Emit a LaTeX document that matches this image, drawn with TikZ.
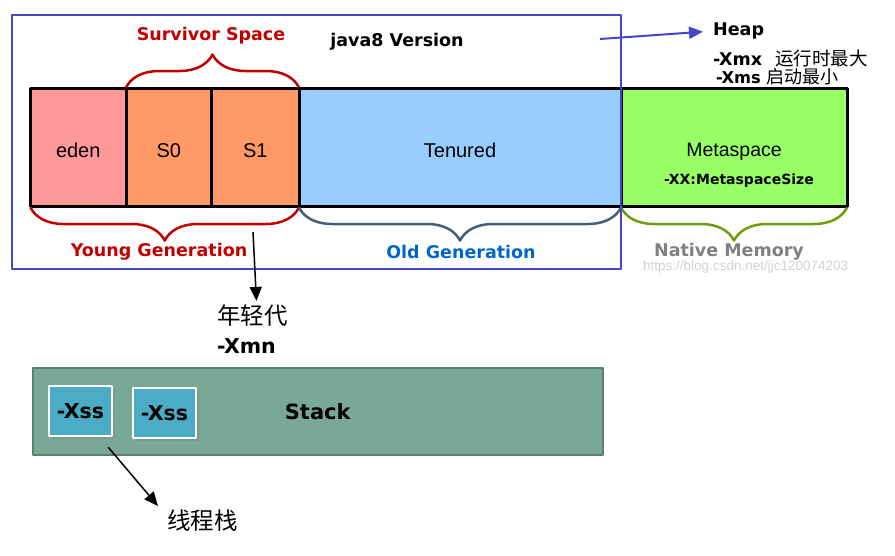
\documentclass[tikz,border=0pt]{standalone}
\usepackage{fontspec}
\setmainfont{Liberation Sans}
\newfontfamily\verd{DejaVu Sans}
\newfontfamily\cjk{Noto Sans CJK SC}
\usetikzlibrary{arrows.meta,decorations.pathreplacing,positioning,shadows}
\definecolor{edenc}{HTML}{FF9999}
\definecolor{survc}{HTML}{FF9966}
\definecolor{tenc}{HTML}{99CCFF}
\definecolor{metac}{HTML}{99FF66}
\definecolor{youngc}{HTML}{C00000}
\definecolor{oldbr}{HTML}{445E76}
\definecolor{oldc}{HTML}{0066CC}
\definecolor{nativebr}{HTML}{6E9E10}
\definecolor{framec}{HTML}{4444CC}
\definecolor{stackc}{HTML}{79A897}
\definecolor{stackb}{HTML}{5A806F}
\definecolor{xssc}{HTML}{4BACC6}

\begin{document}
\begin{tikzpicture}[x=1pt, y=-1pt, line join=round, >={Triangle[length=14pt,width=12pt]},
  blk/.style={draw, line width=3pt, inner sep=0pt, outer sep=0pt, minimum height=118pt, text height=20pt, text depth=0pt,
    font=\fontsize{20}{24}\selectfont},
  brc/.style={decorate, decoration={brace, amplitude=33pt}, line width=2.5pt},
  lbl/.style={inner sep=0pt, font=\verd\bfseries\fontsize{17.5}{21}\selectfont},
  cn/.style={inner sep=0pt, font=\cjk\fontsize{23.5}{28}\selectfont},
  xss/.style={fill=xssc, draw=white, line width=2.5pt, minimum width=63pt, minimum height=50pt, inner sep=0pt,
    font=\verd\bfseries\fontsize{20.5}{24}\selectfont, drop shadow={shadow xshift=2.5pt, shadow yshift=-2.5pt, opacity=0.35}}]
  \useasboundingbox (0,0) rectangle (895,555);
  % memory bar
  \node[blk, fill=edenc, minimum width=95.5pt, anchor=west] (eden) at (30.5,147.5) {eden};
  \node[blk, fill=survc, minimum width=85.5pt, right=0pt of eden] (s0) {S0};
  \node[blk, fill=survc, minimum width=87.5pt, right=0pt of s0] (s1) {S1};
  \node[blk, fill=tenc, minimum width=322pt, right=0pt of s1] (ten) {Tenured};
  \node[blk, fill=metac, minimum width=226pt, right=0pt of ten] (meta) {};
  \node[inner sep=0pt, font=\fontsize{19.5}{23}\selectfont] (metatxt) at (734,152) {Metaspace};
  \node[inner sep=0pt, font=\verd\bfseries\fontsize{14}{17}\selectfont] (metasize) at (739,181) {-XX:MetaspaceSize};
  % braces
  \draw[brc, youngc] ([yshift=1pt]s0.north west) -- ([yshift=1pt]s1.north east);
  \draw[brc, youngc, decoration={mirror}] ([yshift=-1pt]eden.south west) -- ([yshift=-1pt]s1.south east);
  \draw[brc, oldbr, decoration={mirror}] ([yshift=-1pt]ten.south west) -- ([yshift=-1pt]ten.south east);
  \draw[brc, nativebr, decoration={mirror}] ([yshift=-1pt]meta.south west) -- ([yshift=-1pt]meta.south east);
  \node[lbl, text=youngc] (survlbl) at (211,36) {Survivor Space};
  \node[lbl, text=youngc] (younglbl) at (159,252) {Young Generation};
  \node[lbl, text=oldc] (oldlbl) at (461,252) {Old Generation};
  \node[lbl, text=black!50] (nativelbl) at (729,252) {Native Memory};
  \node[inner sep=0pt, anchor=west, text=black!18, font=\fontsize{13.5}{16}\selectfont] (mark) at (643,267) {https://blog.csdn.net/jjc120074203};
  % heap frame
  \draw[framec, line width=2pt] (12,15) rectangle (621,269);
  \node[lbl] (java) at (397,42) {java8 Version};
  \coordinate (heaptail) at (600,39);
  \node[lbl, anchor=west] (heap) at (713,31) {Heap};
  \node[lbl, anchor=west, font=\verd\bfseries\fontsize{17.5}{21}\selectfont] (xmx) at (713,58) {-Xmx\hspace{13pt}{\cjk\mdseries\fontsize{18.5}{21}\selectfont 运行时最大}};
  \node[lbl, anchor=west, font=\verd\bfseries\fontsize{16.3}{20}\selectfont] (xms) at (716,77) {-Xms {\cjk\mdseries\fontsize{18}{21}\selectfont 启动最小}};
  \draw[->, framec, line width=2pt, shorten >=10pt] (heaptail) -- (heap.west);
  % young generation note
  \coordinate (ygtail) at (253,232);
  \node[cn, anchor=west] (ygcn) at (217,316) {年轻代};
  \node[lbl, anchor=west, font=\verd\bfseries\fontsize{20.5}{24}\selectfont] (xmn) at (217,346) {-Xmn};
  \draw[->, line width=1.5pt] (ygtail) -- ([xshift=4pt,yshift=4pt]ygcn.north);
  % stack
  \node[draw=stackb, fill=stackc, line width=1.5pt, minimum width=570pt, minimum height=87pt, anchor=north west,
    font=\verd\bfseries\fontsize{21}{25}\selectfont] (stack) at (32,367) {Stack};
  \node[xss] (xss1) at (80.5,411) {-Xss};
  \node[xss] (xss2) at (164.5,413) {-Xss};
  \node[cn, anchor=west] (thread) at (167,521) {线程栈};
  \draw[->, line width=1.5pt] ([xshift=-5pt,yshift=-10pt]xss1.south east) -- ([xshift=-9pt,yshift=4pt]thread.north west);
\end{tikzpicture}
\end{document}
